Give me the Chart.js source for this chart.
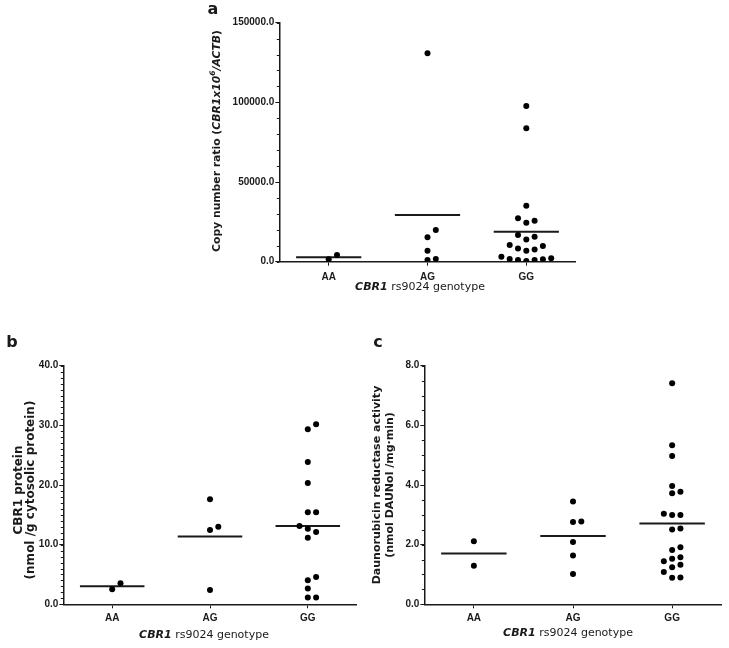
<!DOCTYPE html>
<html>
<head>
<meta charset="utf-8">
<script src="https://cdn.jsdelivr.net/npm/chart.js@4.4.0/dist/chart.umd.min.js"></script>
<style>
  body { margin: 0; background: #fff; }
  #wrap { position: relative; width: 729px; height: 648px; }
  canvas { position: absolute; }
</style>
</head>
<body>
<div id="wrap">
  <canvas id="chartA" width="420" height="300" style="left:180px;top:0px"></canvas>
  <canvas id="chartB" width="364" height="348" style="left:0px;top:300px"></canvas>
  <canvas id="chartC" width="365" height="348" style="left:364px;top:300px"></canvas>
</div>
<script>
// ============================================================
// DATA
// ============================================================
const genotypes = ['AA', 'AG', 'GG'];

// (a) copy number ratio
const copyAA = [1460, 4200];
const copyAG = [130750, 19860, 15270, 6900, 1000, 1670];
const copyGG = [97700, 83680, 35150, 25730, 24480, 27240, 16720, 14000, 15680,
                9820, 7730, 6900, 8360, 10450, 3140, 1600, 1050, 400, 1070, 1690, 2130];
const copyTicks = [0, 50000, 100000, 150000];

// (b) CBR1 protein
const proteinAA = [2.51, 3.52];
const proteinAG = [17.6, 13.0, 12.46, 2.4];
const proteinGG = [30.17, 29.33, 23.86, 20.34, 15.42, 15.42, 12.68, 13.13, 12.12,
                   11.17, 4.58, 4.02, 2.63, 1.12, 1.12];
const proteinTicks = [0, 10, 20, 30, 40];

// (c) daunorubicin reductase activity
const activityAA = [2.11, 1.29];
const activityAG = [3.45, 2.78, 2.76, 2.09, 1.64, 1.02];
const activityGG = [7.41, 5.33, 4.97, 3.97, 3.72, 3.77, 2.99, 2.99, 3.04, 2.51, 2.54,
                    1.91, 1.82, 1.53, 1.58, 1.44, 1.33, 1.24, 1.08, 0.89, 0.90];
const activityTicks = [0, 2, 4, 6, 8];

// ============================================================
// HELPERS
// ============================================================
const INK = '#1a1a1a';
const DJ = '"DejaVu Sans", Verdana, sans-serif';
const LIB = '"Liberation Sans", Arial, sans-serif';

const mean = arr => arr.reduce((s, v) => s + v, 0) / arr.length;

function drawRuns(ctx, runs, cx, cy, rotated) {
    ctx.save();
    ctx.translate(cx, cy);
    if (rotated) ctx.rotate(-Math.PI / 2);
    let total = 0;
    runs.forEach(r => { ctx.font = r.font; total += ctx.measureText(r.t).width; });
    let x = -total / 2;
    ctx.textBaseline = 'middle';
    ctx.textAlign = 'left';
    ctx.fillStyle = INK;
    runs.forEach(r => {
        ctx.font = r.font;
        ctx.fillText(r.t, x, r.sup ? -4 : 0);
        x += ctx.measureText(r.t).width;
    });
    ctx.restore();
}

// axis titles, panel letter, minor ticks
const decorations = {
    id: 'decorations',
    afterDraw(chart, args, o) {
        const ctx = chart.ctx;
        const ys = chart.scales.y;
        ctx.save();
        ctx.strokeStyle = INK;
        ctx.lineWidth = 1;
        for (let v = ys.min; v <= ys.max + 1e-9; v += o.minor) {
            const y = Math.round(ys.getPixelForValue(v)) + 0.5;
            ctx.beginPath();
            ctx.moveTo(ys.right - 2.5, y);
            ctx.lineTo(ys.right, y);
            ctx.stroke();
        }
        ctx.restore();

        o.yLines.forEach(l => drawRuns(ctx, l.runs, l.x, o.yCenter, true));
        drawRuns(ctx, o.xTitle, o.xTitleX, o.xTitleY, false);
        drawRuns(ctx, [{ t: o.letter, font: 'bold 16px ' + DJ }], o.letterX, o.letterY, false);
    }
};

function xTitleRuns(size) {
    return [
        { t: 'CBR1', font: 'italic bold ' + size + 'px ' + DJ },
        { t: ' rs9024 genotype', font: size + 'px ' + DJ }
    ];
}

// simple beeswarm: spread points sideways when they would overlap
function swarm(chart, groups) {
    const xs = chart.scales.x, ys = chart.scales.y;
    const unit = xs.getPixelForValue(1) - xs.getPixelForValue(0);
    const step = 8.3, minDist = 7.4;
    const out = [];
    groups.forEach((vals, gi) => {
        const placed = [];
        const order = vals.map((v, i) => i).sort((a, b) => vals[a] - vals[b]);
        order.forEach(i => {
            const py = ys.getPixelForValue(vals[i]);
            for (let k = 0; k < 40; k++) {
                const off = (k === 0 ? 0 : (k % 2 ? Math.ceil(k / 2) : -k / 2)) * step;
                if (placed.every(p => Math.hypot(p.dx - off, p.py - py) >= minDist)) {
                    placed.push({ dx: off, py });
                    out.push({ x: gi + off / unit, y: vals[i] });
                    break;
                }
            }
        });
    });
    chart.data.datasets[0].data = out;
    chart.update('none');
}

function makePanel(id, groups, p) {
    const datasets = [{
        type: 'scatter',
        data: groups.flatMap((vals, i) => vals.map(v => ({ x: i, y: v }))),
        pointRadius: 3,
        pointHoverRadius: 3,
        backgroundColor: '#000',
        borderWidth: 0
    }].concat(groups.map((vals, i) => {
        const m = mean(vals);
        return {
            type: 'line',
            data: [{ x: i - 0.33, y: m }, { x: i + 0.33, y: m }],
            borderColor: INK,
            borderWidth: 2,
            pointRadius: 0,
            fill: false
        };
    }));

    const chart = new Chart(document.getElementById(id), {
        type: 'scatter',
        data: { datasets },
        options: {
            responsive: false,
            animation: false,
            layout: { padding: { left: 0, top: p.top, right: p.right, bottom: 0 } },
            plugins: {
                legend: { display: false },
                tooltip: { enabled: false },
                decorations: p.deco
            },
            scales: {
                x: {
                    type: 'linear',
                    min: -0.5,
                    max: 2.5,
                    afterBuildTicks: s => { s.ticks = genotypes.map((g, i) => ({ value: i })); },
                    afterFit: s => { s.height = p.xH; },
                    border: { color: INK, width: 1.5 },
                    grid: { drawOnChartArea: false, tickLength: 4, color: INK },
                    ticks: {
                        color: INK,
                        padding: p.xPad,
                        font: { family: LIB, weight: 'bold', size: 10 },
                        callback: v => genotypes[v] ?? ''
                    }
                },
                y: {
                    min: 0,
                    max: p.ticks[p.ticks.length - 1],
                    afterBuildTicks: s => { s.ticks = p.ticks.map(v => ({ value: v })); },
                    afterFit: s => { s.width = p.yW; },
                    border: { color: INK, width: 1.5 },
                    grid: { drawOnChartArea: false, tickLength: 4, color: INK },
                    ticks: {
                        color: INK,
                        padding: 1,
                        font: { family: LIB, weight: 'bold', size: 10 },
                        callback: v => Number(v).toFixed(1)
                    }
                }
            }
        },
        plugins: [decorations]
    });
    swarm(chart, groups);
    return chart;
}

// ============================================================
// CHARTS
// ============================================================
const bA = 'bold 10.8px ' + DJ, biA = 'italic bold 10.8px ' + DJ, supA = 'italic bold 7.5px ' + DJ;
makePanel('chartA', [copyAA, copyAG, copyGG], {
    ticks: copyTicks, yW: 99.3, xH: 38.3, top: 22.7, right: 24.3, xPad: 6,
    deco: {
        minor: 10000,
        yCenter: 141,
        yLines: [{ x: 37.5, runs: [
            { t: 'Copy number ratio (', font: bA },
            { t: 'CBR1x10', font: biA },
            { t: '6', font: supA, sup: true },
            { t: '/ACTB', font: biA },
            { t: ')', font: bA }
        ] }],
        xTitle: xTitleRuns(11), xTitleX: 240, xTitleY: 287,
        letter: 'a', letterX: 33, letterY: 10
    }
});

const b12 = 'bold 12px ' + DJ;
makePanel('chartB', [proteinAA, proteinAG, proteinGG], {
    ticks: proteinTicks, yW: 63.3, xH: 43.7, top: 65.7, right: 7.3, xPad: 4,
    deco: {
        minor: 1,
        yCenter: 190,
        yLines: [
            { x: 18.5, runs: [{ t: 'CBR1 protein', font: b12 }] },
            { x: 31, runs: [{ t: '(nmol /g cytosolic protein)', font: b12 }] }
        ],
        xTitle: xTitleRuns(11), xTitleX: 204, xTitleY: 335,
        letter: 'b', letterX: 12, letterY: 43
    }
});

const b11 = 'bold 11px ' + DJ;
makePanel('chartC', [activityAA, activityAG, activityGG], {
    ticks: activityTicks, yW: 60.3, xH: 43.7, top: 65.7, right: 7.3, xPad: 4,
    deco: {
        minor: 0.5,
        yCenter: 185,
        yLines: [
            { x: 13, runs: [{ t: 'Daunorubicin reductase activity', font: b11 }] },
            { x: 26, runs: [{ t: '(nmol DAUNol /mg\u00b7min)', font: b11 }] }
        ],
        xTitle: xTitleRuns(11), xTitleX: 204, xTitleY: 333,
        letter: 'c', letterX: 14, letterY: 43
    }
});
</script>
</body>
</html>
